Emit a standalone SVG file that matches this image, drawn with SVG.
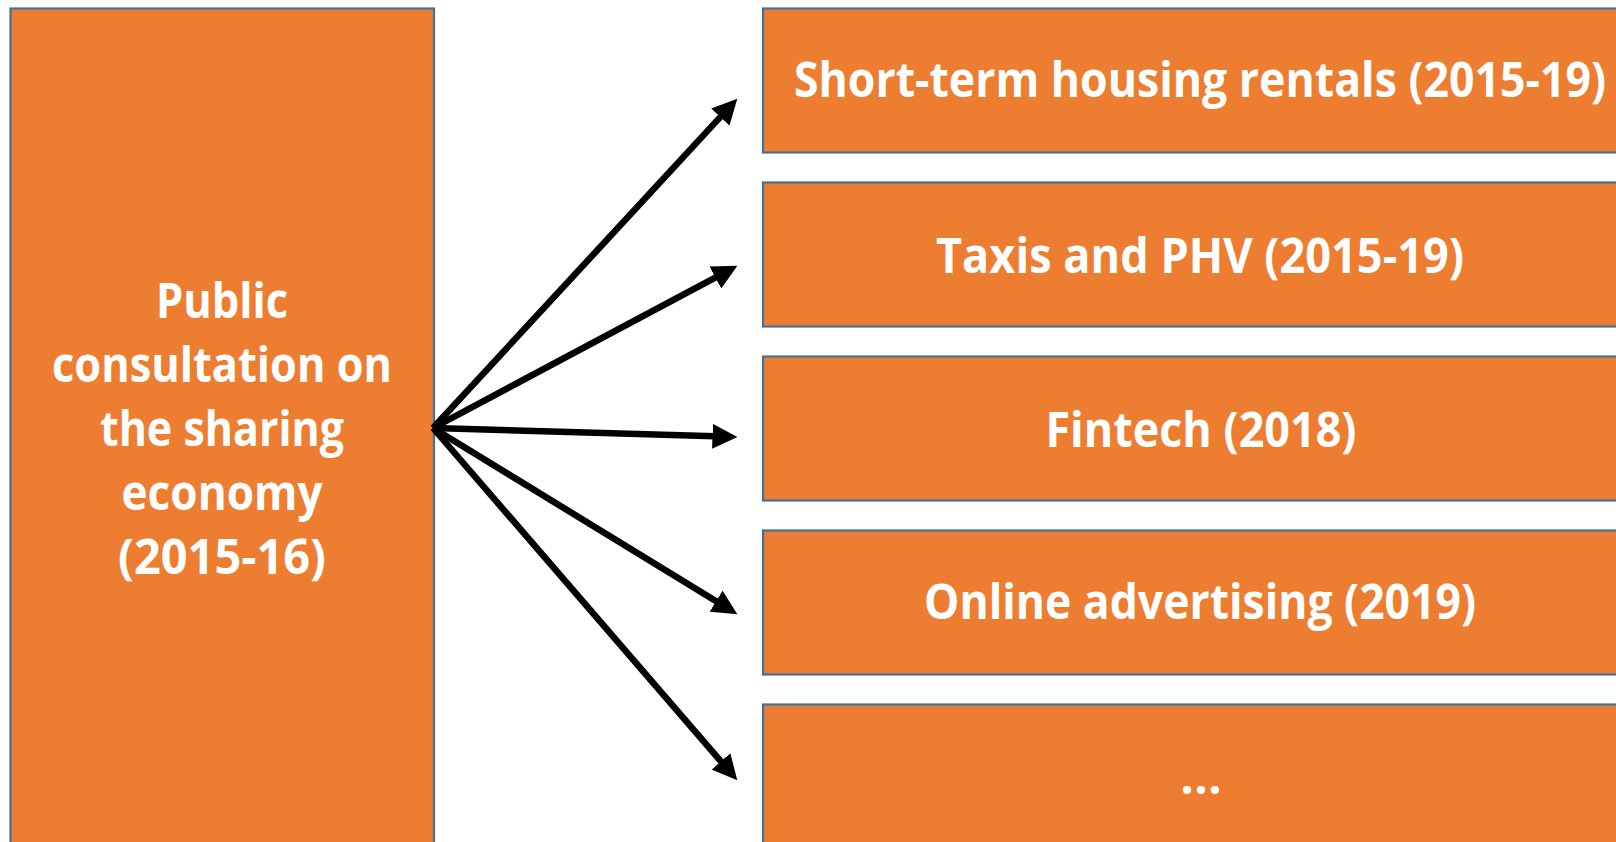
<svg xmlns="http://www.w3.org/2000/svg" width="1616" height="842" viewBox="0 0 1616 842">
  <style>
    .box { fill: #ED7D31; stroke: #41719C; stroke-width: 2.2; }
    .label { font-family: "Open Sans", "Noto Sans", "Liberation Sans", sans-serif; font-weight: 700; font-size: 49px; fill: #FFFFFF; text-anchor: middle; }
    .arrow { stroke: #000000; stroke-width: 6.5; fill: none; marker-end: url(#head); }
  </style>
  <defs>
    <marker id="head" markerUnits="userSpaceOnUse" markerWidth="25" markerHeight="25" refX="2.5" refY="12.2" orient="auto" viewBox="0 0 24.5 24.4">
      <path d="M0,0 L24.5,12.2 L0,24.4 Z" fill="#000000"/>
    </marker>
  </defs>
  <rect width="1616" height="842" fill="#FFFFFF"/>

  <!-- source: the consultation -->
  <g id="consultation">
    <rect class="box" x="10.5" y="8.5" width="423.5" height="900"/>
    <text class="label" x="222" y="318" textLength="132" lengthAdjust="spacingAndGlyphs">Public</text>
    <text class="label" x="222" y="382" textLength="340" lengthAdjust="spacingAndGlyphs">consultation on</text>
    <text class="label" x="222" y="446" textLength="244" lengthAdjust="spacingAndGlyphs">the sharing</text>
    <text class="label" x="222" y="510" textLength="201" lengthAdjust="spacingAndGlyphs">economy</text>
    <text class="label" x="222" y="574" textLength="208" lengthAdjust="spacingAndGlyphs">(2015-16)</text>
  </g>

  <!-- follow-up topics -->
  <g id="housing">
    <rect class="box" x="763" y="8.5" width="900" height="144"/>
    <text class="label" x="1200" y="97" textLength="812" lengthAdjust="spacingAndGlyphs">Short-term housing rentals (2015-19)</text>
  </g>
  <g id="taxis">
    <rect class="box" x="763" y="182.5" width="900" height="144"/>
    <text class="label" x="1200" y="273" textLength="528" lengthAdjust="spacingAndGlyphs">Taxis and PHV (2015-19)</text>
  </g>
  <g id="fintech">
    <rect class="box" x="763" y="356.5" width="900" height="144"/>
    <text class="label" x="1201" y="447" textLength="311" lengthAdjust="spacingAndGlyphs">Fintech (2018)</text>
  </g>
  <g id="advertising">
    <rect class="box" x="763" y="530.5" width="900" height="144"/>
    <text class="label" x="1200" y="619" textLength="552" lengthAdjust="spacingAndGlyphs">Online advertising (2019)</text>
  </g>
  <g id="more">
    <rect class="box" x="763" y="704.5" width="900" height="200"/>
    <text class="label" x="1201" y="794">…</text>
  </g>

  <!-- connectors fanning out from the consultation -->
  <g id="connectors">
    <line class="arrow" x1="433" y1="428" x2="722.07" y2="115.16"/>
    <line class="arrow" x1="433" y1="428" x2="717.59" y2="276.35"/>
    <line class="arrow" x1="433" y1="428" x2="715.01" y2="436.35"/>
    <line class="arrow" x1="433" y1="428" x2="718.23" y2="602.52"/>
    <line class="arrow" x1="433" y1="428" x2="722.62" y2="763.35"/>
  </g>
</svg>
